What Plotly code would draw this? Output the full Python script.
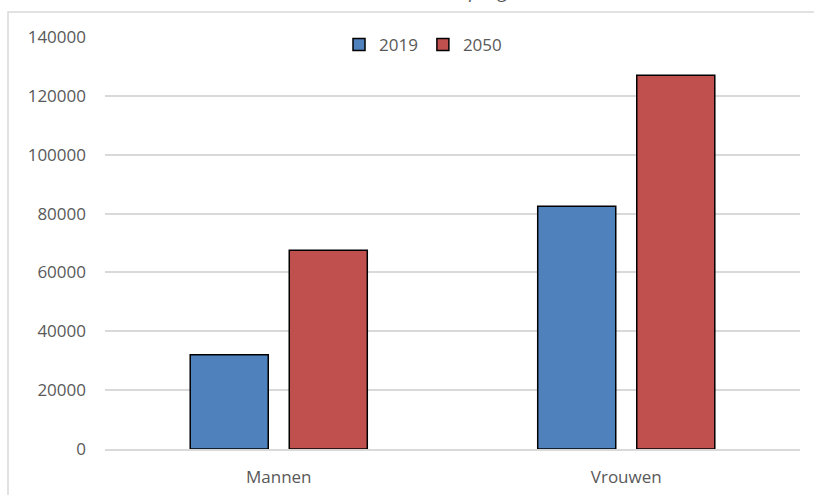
import plotly.graph_objects as go

categories = ["Mannen", "Vrouwen"]
values_2019 = [32000, 82500]
values_2050 = [67500, 127000]
series_names = ["2019", "2050"]
title_text = "Aantal met dementie prognose"

W, H = 814, 495
L, R, T, B = 105, 14, 37, 46
pw = W - L - R
ph = H - T - B

def px_x(x):
    return (x - L) / pw

def px_y(y):
    return (H - B - y) / ph

fig = go.Figure()
fig.add_trace(go.Bar(x=categories, y=values_2019, name=series_names[0],
                     marker=dict(color="#4F81BD", line=dict(color="#000000", width=1.5))))
fig.add_trace(go.Bar(x=categories, y=values_2050, name=series_names[1],
                     marker=dict(color="#C0504D", line=dict(color="#000000", width=1.5))))

font_family = "Open Sans, sans-serif"
grey = "#595959"

fig.update_layout(
    width=W, height=H,
    margin=dict(l=L, r=R, t=T, b=B, pad=0, autoexpand=False),
    paper_bgcolor="white", plot_bgcolor="white",
    barmode="group", bargap=0.43, bargroupgap=0.212,
    font=dict(family=font_family, size=17, color=grey),
    showlegend=True,
    legend=dict(orientation="h", x=px_x(423), xanchor="center",
                y=px_y(45), yanchor="middle", bgcolor="rgba(0,0,0,0)",
                font=dict(family=font_family, size=17, color=grey),
                itemwidth=30, traceorder="normal"),
    xaxis=dict(showgrid=False, showline=True, linecolor="#D9D9D9", linewidth=1.5,
               ticks="", ticklabelstandoff=12, zeroline=False, automargin=False),
    yaxis=dict(range=[0, 140000], tick0=0, dtick=20000, showgrid=True,
               gridcolor="#D9D9D9", gridwidth=1.5, showline=False, zeroline=False,
               ticks="", ticklabelstandoff=18, tickformat="d", automargin=False),
    shapes=[dict(type="rect", xref="paper", yref="paper",
                 x0=px_x(8), x1=px_x(830), y0=px_y(510), y1=px_y(12),
                 line=dict(color="#D9D9D9", width=1.5), fillcolor="rgba(0,0,0,0)",
                 layer="below")],
    annotations=[dict(text=title_text, xref="paper", yref="paper",
                      x=px_x(418), y=px_y(6), xanchor="center", yanchor="bottom",
                      showarrow=False,
                      font=dict(family=font_family, size=19, color=grey, style="italic"))],
)

fig.write_html("out.html", config={"displayModeBar": False},
               post_script="document.body.style.margin='0';document.body.style.overflow='hidden';")
